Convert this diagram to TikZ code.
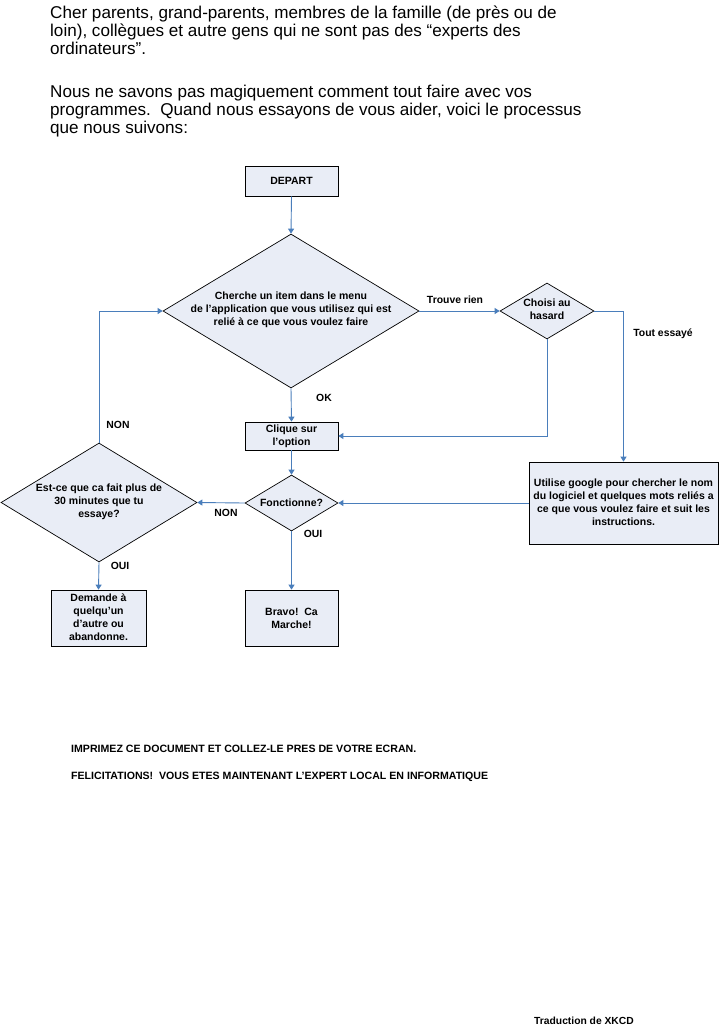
\documentclass[tikz,border=0pt]{standalone}
\usepackage{fontspec}
\setmainfont{Liberation Sans}
\usetikzlibrary{shapes.geometric,arrows.meta}
\definecolor{fillc}{HTML}{E9EDF6}
\definecolor{linec}{HTML}{4A7EBB}
\begin{document}
\begin{tikzpicture}[x=1pt,y=-1pt,
  box/.style={draw=black,fill=fillc,line width=0.7pt,inner sep=0pt,rectangle},
  dia/.style={draw=black,fill=fillc,line width=0.7pt,inner sep=0pt,diamond},
  txt/.style={font=\bfseries\fontsize{10.5}{13}\selectfont,align=center,inner sep=0pt},
  lab/.style={font=\bfseries\fontsize{10.4}{12}\selectfont,inner sep=0pt},
  head/.style={font=\fontsize{17.1}{18}\selectfont,anchor=base west,inner sep=0pt},
  foot/.style={font=\bfseries\fontsize{10.6}{12}\selectfont,anchor=base west,inner sep=0pt},
  conn/.style={draw=linec,line width=0.9pt,-{Triangle[length=5pt,width=6pt]}},
  plain/.style={draw=linec,line width=0.9pt}]
\useasboundingbox (0,0) rectangle (719,1028);
\fill[white] (0,0) rectangle (719,1028);
% header
\node[head] (h1) at (50,18) {Cher parents, grand-parents, membres de la famille (de près ou de};
\node[head] (h2) at (50,36) {loin), collègues et autre gens qui ne sont pas des “experts des};
\node[head] (h3) at (50,54) {ordinateurs”.};
\node[head] (h4) at (50,97) {Nous ne savons pas magiquement comment tout faire avec vos};
\node[head] (h5) at (50,115) {programmes.\ \ Quand nous essayons de vous aider, voici le processus};
\node[head] (h6) at (50,133) {que nous suivons:};
% shapes
\node[box,minimum width=93pt,minimum height=30pt] (depart) at (291.5,181) {};
\node[txt] (tdepart) at (depart.center) {DEPART};
\node[dia,minimum width=256pt,minimum height=154pt] (d1) at (291,311) {};
\node[txt] (td1) at (291,310) {Cherche un item dans le menu\\de l’application que vous utilisez qui est\\relié à ce que vous voulez faire};
\node[dia,minimum width=94pt,minimum height=56pt] (ch) at (547,311) {};
\node[txt] (tch) at (547,309.5) {Choisi au\\hasard};
\node[box,minimum width=93pt,minimum height=28pt] (clique) at (291.5,436) {};
\node[txt] (tclique) at (clique.center) {Clique sur\\l’option};
\node[dia,minimum width=93pt,minimum height=56pt] (fon) at (291.5,503) {};
\node[txt] (tfon) at (fon.center) {Fonctionne?};
\node[box,minimum width=189pt,minimum height=82pt] (util) at (623.5,503) {};
\node[txt] (tutil) at (623.5,502) {Utilise google pour chercher le nom\\du logiciel et quelques mots reliés a\\ce que vous voulez faire et suit les\\instructions.};
\node[dia,minimum width=196pt,minimum height=119pt] (est) at (99,502.5) {};
\node[txt] (test) at (99,502) {Est-ce que ca fait plus de\\30 minutes que tu\\essaye?};
\node[box,minimum width=95pt,minimum height=56pt] (dem) at (98.5,618) {};
\node[txt] (tdem) at (98.5,617.5) {Demande à\\quelqu’un\\d’autre ou\\abandonne.};
\node[box,minimum width=93pt,minimum height=56pt] (bravo) at (291.5,618) {};
\node[txt] (tbravo) at (291.5,618) {Bravo!\ \ Ca\\Marche!};
% connectors
\draw[conn] (depart.south) -- (d1.north);
\draw[conn] (d1.south) -- (clique.north);
\draw[conn] (d1.east) -- (ch.west);
\draw[conn] (ch.south) |- (clique.east);
\draw[conn] (ch.east) -| (util.north);
\draw[conn] (clique.south) -- (fon.north);
\draw[conn] (util.west) -- (fon.east);
\draw[conn] (fon.west) -- (est.east);
\draw[conn] (est.north) |- (d1.west);
\draw[conn] (est.south) -- (dem.north);
\draw[conn] (fon.south) -- (bravo.north);
% labels
\node[lab] (lok) at (324,398) {OK};
\node[lab] (ltr) at (455,300) {Trouve rien};
\node[lab] (lte) at (663,334) {Tout essayé};
\node[lab] (ln1) at (118,425) {NON};
\node[lab] (ln2) at (226,513) {NON};
\node[lab] (lo1) at (120,566) {OUI};
\node[lab] (lo2) at (313,534) {OUI};
% footer
\node[foot] (f1) at (71,752) {IMPRIMEZ CE DOCUMENT ET COLLEZ-LE PRES DE VOTRE ECRAN.};
\node[foot] (f2) at (71,779) {FELICITATIONS!\ \ VOUS ETES MAINTENANT L’EXPERT LOCAL EN INFORMATIQUE};
\node[foot,font=\bfseries\fontsize{10.3}{12}\selectfont] (f3) at (534,1024) {Traduction de XKCD};
\end{tikzpicture}
\end{document}
